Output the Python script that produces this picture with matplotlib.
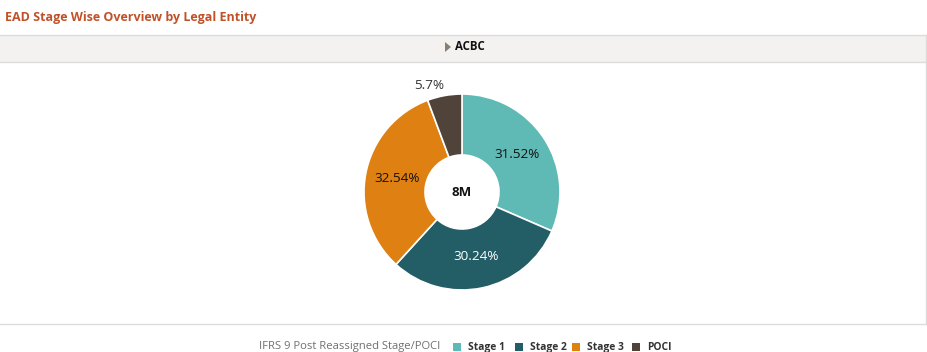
import matplotlib.pyplot as plt
from matplotlib.patches import Rectangle, Polygon

plt.rcParams['font.family'] = ['Open Sans', 'DejaVu Sans']

labels = ["Stage 1", "Stage 2", "Stage 3", "POCI"]
shares = [31.52, 30.24, 32.54, 5.7]
pct_text = ["31.52%", "30.24%", "32.54%", "5.7%"]
colors = ["#5fbab5", "#235d65", "#df8012", "#4f433a"]
label_colors = ["#111111", "#ffffff", "#111111", "#333333"]
center_text = "8M"
entity = "ACBC"
title = "EAD Stage Wise Overview by Legal Entity"
legend_title = "IFRS 9 Post Reassigned Stage/POCI"

W, H = 928, 352
fig = plt.figure(figsize=(W / 100, H / 100), dpi=100)

# background canvas in pixel coordinates
bg = fig.add_axes([0, 0, 1, 1])
bg.set_xlim(0, W)
bg.set_ylim(H, 0)
bg.axis("off")

bg.text(5, 17, title, color="#c0522a", fontsize=9.0, fontweight="bold",
        va="center", ha="left")

# panel box and header strip
bg.add_patch(Rectangle((0, 35), 926, 27, facecolor="#f3f2f1", edgecolor="none"))
bg.plot([0, 926], [35, 35], color="#dcdcdc", lw=1)
bg.plot([0, 926], [62, 62], color="#dcdcdc", lw=1)
bg.plot([0, 926], [324, 324], color="#dcdcdc", lw=1)
bg.plot([926, 926], [35, 324], color="#dcdcdc", lw=1)
bg.add_patch(Polygon([[445, 42], [445, 52], [451, 47]], closed=True,
                     facecolor="#8a7d72", edgecolor="none"))
bg.text(455, 47, entity, fontsize=8.3, fontweight="bold", color="#111111",
        va="center", ha="left")

# legend
bg.text(440, 347, legend_title, fontsize=8.1, color="#707070",
        va="center", ha="right")
leg_x = [453, 515, 572, 632]
for x, lab, col in zip(leg_x, labels, colors):
    bg.add_patch(Rectangle((x, 343), 8, 8, facecolor=col, edgecolor="none"))
    bg.text(x + 15, 347.5, lab, fontsize=7.4, fontweight="bold", color="#333333",
            va="center", ha="left")

# donut
cx, cy, r = 462, 192, 98
pa = fig.add_axes([(cx - r) / W, (H - cy - r) / H, 2 * r / W, 2 * r / H])
wedges, _ = pa.pie(shares, colors=colors, startangle=90, counterclock=False,
                   radius=1.0, wedgeprops=dict(width=1 - 37 / 98,
                                               edgecolor="white", linewidth=1.2))
pa.set_xlim(-1, 1)
pa.set_ylim(-1, 1)
pa.set_aspect("equal")
pa.axis("off")

pos = [(0.56, 0.38), (0.14, -0.66), (-0.66, 0.14), (-0.33, 1.09)]
for (x, y), t, c in zip(pos, pct_text, label_colors):
    pa.text(x, y, t, fontsize=9.7, color=c, ha="center", va="center")
pa.text(0, 0, center_text, fontsize=9.5, fontweight="bold", color="#111111",
        ha="center", va="center")

fig.savefig("out.png", dpi=100)
